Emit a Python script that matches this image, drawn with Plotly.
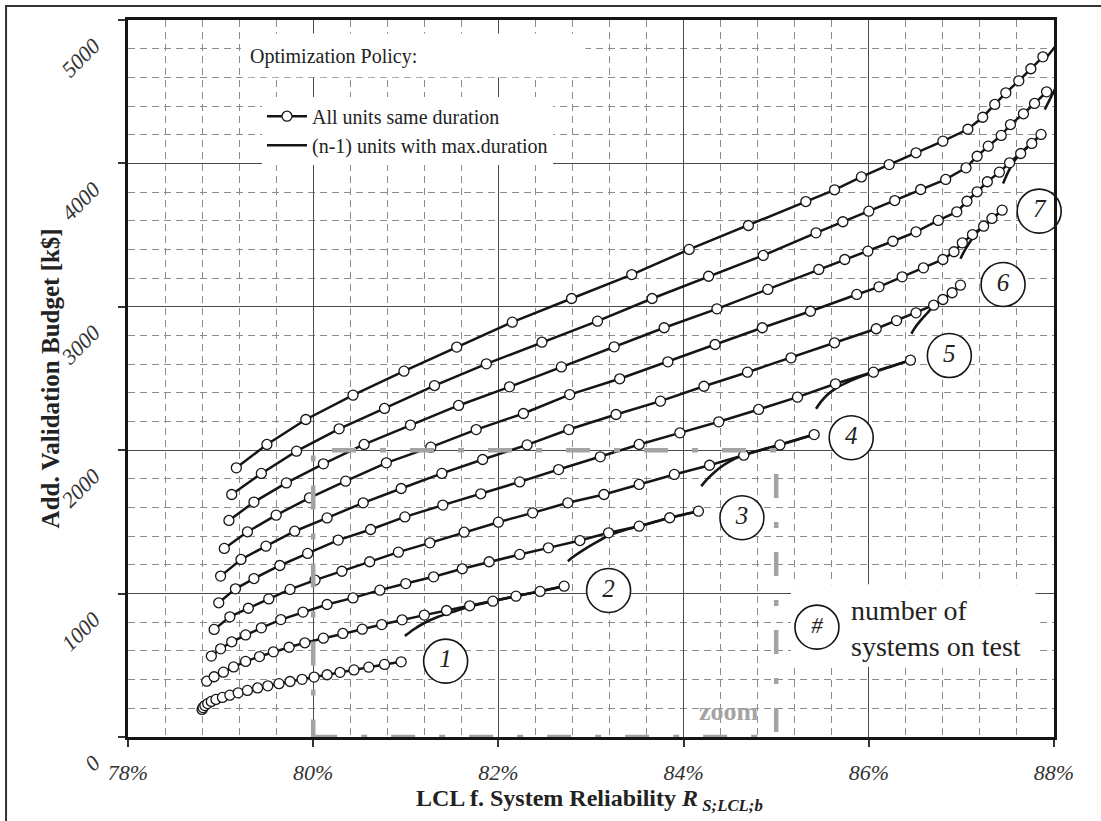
import plotly.graph_objects as go

SERIF = "Liberation Serif"

# LCL of system reliability R_S;LCL;b [%] and additional validation budget [k$]
# Policy "All units same duration", n = 1 .. 10 systems on test
r_same_1 = [78.80, 78.81, 78.83, 78.86, 78.90, 78.95, 79.02, 79.10, 79.19, 79.29, 79.40,
            79.51, 79.63, 79.75, 79.88, 80.01, 80.15, 80.29, 80.44, 80.60, 80.77, 80.95]
b_same_1 = [192, 205, 219, 233, 248, 262, 276, 292, 308, 325, 342,
            357, 372, 387, 402, 418, 434, 451, 468, 487, 506, 524]

r_same_2 = [78.85, 78.93, 79.03, 79.14, 79.27, 79.42, 79.57, 79.74, 79.91, 80.11, 80.32,
            80.53, 80.74, 80.96, 81.20, 81.44, 81.69, 81.94, 82.19, 82.45, 82.71]
b_same_2 = [389, 420, 452, 489, 527, 561, 594, 626, 657, 689, 722,
            752, 784, 817, 850, 882, 915, 947, 982, 1015, 1052]

r_same_3 = [78.90, 79.00, 79.12, 79.27, 79.44, 79.65, 79.89, 80.15, 80.43, 80.72, 81.00,
            81.30, 81.61, 81.90, 82.23, 82.54, 82.88, 83.19, 83.52, 83.85, 84.16]
b_same_3 = [564, 615, 664, 712, 761, 819, 871, 924, 970, 1024, 1070,
            1117, 1173, 1222, 1273, 1319, 1370, 1424, 1470, 1529, 1575]

r_same_4 = [78.93, 79.10, 79.30, 79.52, 79.75, 80.02, 80.31, 80.61, 80.92, 81.26, 81.63,
            82.00, 82.37, 82.75, 83.14, 83.52, 83.90, 84.28, 84.65, 85.04, 85.41]
b_same_4 = [750, 838, 898, 963, 1029, 1094, 1156, 1222, 1289, 1354, 1428,
            1498, 1563, 1633, 1691, 1761, 1831, 1895, 1965, 2037, 2109]

r_same_5 = [78.98, 79.16, 79.36, 79.64, 79.94, 80.27, 80.62, 80.99, 81.40, 81.81, 82.23,
            82.65, 83.10, 83.52, 83.96, 84.38, 84.81, 85.23, 85.64, 86.05, 86.45]
b_same_5 = [936, 1033, 1105, 1196, 1280, 1373, 1447, 1535, 1617, 1696, 1779,
            1865, 1954, 2040, 2121, 2198, 2284, 2370, 2463, 2544, 2628]

r_same_6 = [79.00, 79.22, 79.49, 79.80, 80.15, 80.54, 80.95, 81.39, 81.83, 82.31, 82.76,
            83.27, 83.75, 84.22, 84.69, 85.16, 85.63, 86.08, 86.30, 86.51, 86.70,
            86.80, 86.90, 86.99]
b_same_6 = [1122, 1238, 1331, 1435, 1528, 1633, 1733, 1838, 1935, 2037, 2144,
            2249, 2342, 2446, 2544, 2644, 2749, 2847, 2904, 2958, 3011,
            3051, 3098, 3151]

r_same_7 = [79.04, 79.29, 79.60, 79.96, 80.35, 80.79, 81.27, 81.76, 82.27, 82.77, 83.31,
            83.83, 84.34, 84.85, 85.37, 85.87, 86.11, 86.36, 86.59, 86.80, 86.92,
            87.01, 87.12, 87.24, 87.33, 87.44]
b_same_7 = [1315, 1431, 1547, 1668, 1784, 1912, 2021, 2144, 2256, 2388, 2498,
            2616, 2737, 2854, 2969, 3086, 3139, 3209, 3272, 3330, 3384,
            3446, 3504, 3562, 3616, 3674]

r_same_8 = [79.09, 79.36, 79.71, 80.11, 80.55, 81.05, 81.57, 82.12, 82.68, 83.25, 83.79,
            84.36, 84.91, 85.46, 85.74, 85.99, 86.26, 86.51, 86.75, 86.95, 87.06,
            87.17, 87.28, 87.41, 87.52, 87.64, 87.76, 87.86]
b_same_8 = [1510, 1638, 1772, 1905, 2040, 2175, 2312, 2442, 2581, 2721, 2854,
            2986, 3121, 3260, 3330, 3388, 3457, 3523, 3602, 3662, 3736,
            3802, 3872, 3939, 4004, 4069, 4139, 4202]

r_same_9 = [79.12, 79.44, 79.82, 80.28, 80.77, 81.31, 81.87, 82.47, 83.07, 83.66, 84.27,
            84.86, 85.43, 85.72, 86.00, 86.28, 86.56, 86.83, 87.05, 87.17, 87.29,
            87.43, 87.53, 87.67, 87.79, 87.92]
b_same_9 = [1691, 1838, 1993, 2149, 2291, 2451, 2602, 2753, 2900, 3058, 3213,
            3358, 3516, 3593, 3667, 3741, 3818, 3888, 3969, 4050, 4120,
            4195, 4271, 4346, 4418, 4499]

r_same_10 = [79.17, 79.50, 79.92, 80.43, 80.98, 81.55, 82.15, 82.79, 83.44, 84.06, 84.70,
             85.32, 85.63, 85.92, 86.22, 86.51, 86.80, 87.07, 87.23, 87.36, 87.48,
             87.62, 87.75, 87.88]
b_same_10 = [1877, 2040, 2214, 2384, 2551, 2719, 2893, 3058, 3225, 3400, 3567,
             3734, 3816, 3906, 3992, 4074, 4155, 4238, 4322, 4411, 4492,
             4576, 4660, 4743]

# Policy "(n-1) units with max. duration", n = 2 .. 10
r_max_2 = [80.99, 81.08, 81.20, 81.35, 81.52, 81.70, 81.94, 82.19, 82.45, 82.71]
b_max_2 = [705, 748, 795, 838, 875, 912, 947, 982, 1015, 1052]

r_max_3 = [82.75, 82.82, 82.92, 83.05, 83.19, 83.35, 83.52, 83.85, 84.16]
b_max_3 = [1226, 1262, 1305, 1355, 1405, 1440, 1470, 1529, 1575]

r_max_4 = [84.19, 84.25, 84.33, 84.43, 84.55, 84.68, 85.04, 85.41]
b_max_4 = [1749, 1795, 1845, 1895, 1940, 1975, 2037, 2109]

r_max_5 = [85.43, 85.48, 85.55, 85.64, 85.75, 85.88, 86.05, 86.45]
b_max_5 = [2289, 2335, 2385, 2430, 2468, 2505, 2544, 2628]

r_max_6 = [86.46, 86.50, 86.56, 86.63, 86.70, 86.80, 86.90, 86.99]
b_max_6 = [2812, 2855, 2905, 2955, 3005, 3053, 3100, 3151]

r_max_7 = [86.99, 87.02, 87.06, 87.11, 87.17, 87.24, 87.34, 87.44]
b_max_7 = [3335, 3375, 3420, 3470, 3520, 3562, 3616, 3674]

r_max_8 = [87.45, 87.48, 87.52, 87.57, 87.64, 87.76, 87.86]
b_max_8 = [3860, 3905, 3960, 4015, 4069, 4139, 4202]

r_max_9 = [87.90, 87.95, 88.00, 88.05, 88.10]
b_max_9 = [4376, 4440, 4505, 4565, 4625]

r_max_10 = [87.93, 88.00, 88.08]
b_max_10 = [4747, 4805, 4865]

# circled "number of systems on test" labels
label_text = ["1", "2", "3", "4", "5", "6", "7"]
label_r = [81.43, 83.19, 84.63, 85.81, 86.87, 87.45, 87.84]
label_b = [529, 1022, 1529, 2087, 2660, 3156, 3667]

x_ticks = [78, 80, 82, 84, 86, 88]
x_tick_text = ["78%", "80%", "82%", "84%", "86%", "88%"]
y_ticks = [0, 1000, 2000, 3000, 4000, 5000]

same_series = [(r_same_1, b_same_1), (r_same_2, b_same_2), (r_same_3, b_same_3),
               (r_same_4, b_same_4), (r_same_5, b_same_5), (r_same_6, b_same_6),
               (r_same_7, b_same_7), (r_same_8, b_same_8), (r_same_9, b_same_9),
               (r_same_10, b_same_10)]
max_series = [(r_max_2, b_max_2), (r_max_3, b_max_3), (r_max_4, b_max_4),
              (r_max_5, b_max_5), (r_max_6, b_max_6), (r_max_7, b_max_7),
              (r_max_8, b_max_8), (r_max_9, b_max_9), (r_max_10, b_max_10)]

INK = "#151515"

fig = go.Figure()

for i, (xs, ys) in enumerate(max_series):
    fig.add_trace(go.Scatter(
        x=xs, y=ys, mode="lines",
        line=dict(color=INK, width=2.6, shape="spline", smoothing=0.6),
        name="(n-1) units with max.duration",
        legendgroup="max", legendrank=2, showlegend=(i == 0),
        hoverinfo="skip",
    ))

for i, (xs, ys) in enumerate(same_series):
    fig.add_trace(go.Scatter(
        x=xs, y=ys, mode="lines+markers",
        line=dict(color=INK, width=2.5),
        marker=dict(symbol="circle", size=10, color="white",
                    line=dict(color=INK, width=1.3)),
        name="All units same duration",
        legendgroup="same", legendrank=1, showlegend=(i == 0),
        hoverinfo="skip",
    ))

# circled curve numbers
fig.add_trace(go.Scatter(
    x=label_r, y=label_b, mode="markers+text",
    marker=dict(symbol="circle", size=44, color="white",
                line=dict(color=INK, width=1.6)),
    text=label_text, textposition="middle center",
    textfont=dict(family=SERIF, size=25, color="#222", style="italic"),
    showlegend=False, cliponaxis=False, hoverinfo="skip",
))

# key for the circled numbers
fig.add_shape(type="rect", xref="x", yref="y", x0=85.16, x1=87.80, y0=490, y1=1065,
              fillcolor="white", line=dict(width=0), layer="between")
fig.add_trace(go.Scatter(
    x=[85.44], y=[766], mode="markers+text",
    marker=dict(symbol="circle", size=44, color="white",
                line=dict(color=INK, width=1.6)),
    text=["#"], textposition="middle center",
    textfont=dict(family=SERIF, size=23, color="#222", style="italic"),
    showlegend=False, cliponaxis=False, hoverinfo="skip",
))
fig.add_annotation(x=85.79, y=757, xref="x", yref="y", xanchor="left", yanchor="middle",
                   text="number of<br>systems on test", align="left", showarrow=False,
                   font=dict(family=SERIF, size=28, color="#222"))

# zoom window
fig.add_shape(type="rect", xref="x", yref="y", x0=80, x1=85, y0=0, y1=2000,
              line=dict(color="#a3a3a3", width=4.5, dash="24px,24px,6px,24px"),
              fillcolor="rgba(0,0,0,0)", layer="above")
fig.add_annotation(x=84.49, y=178, xref="x", yref="y", text="<b>zoom</b>", showarrow=False,
                   font=dict(family=SERIF, size=26, color="#a3a3a3"))

# legend heading
fig.add_shape(type="rect", xref="x", yref="y", x0=79.22, x1=82.94, y0=4600, y1=4905,
              fillcolor="white", line=dict(width=0), layer="between")
fig.add_annotation(x=79.30, y=4745, xref="x", yref="y", xanchor="left", yanchor="middle",
                   text="Optimization Policy:", showarrow=False,
                   font=dict(family=SERIF, size=20, color="#222"))

# axis titles
fig.add_annotation(x=-0.100, y=0.5, xref="paper", yref="paper", textangle=-90,
                   text="<b>Add. Validation Budget [k$]</b>", showarrow=False,
                   font=dict(family=SERIF, size=25, color="#222"))
fig.add_annotation(x=0.498, y=-0.088, xref="paper", yref="paper", yanchor="middle",
                   text="<b>LCL f. System Reliability <i>R</i><sub><i> S;LCL;b</i></sub></b>",
                   showarrow=False, font=dict(family=SERIF, size=24, color="#222"))

# outer frame
fig.add_shape(type="rect", xref="paper", yref="paper", x0=-0.1317, x1=1.06, y0=-0.13, y1=1.0195,
              line=dict(color="#333", width=2), fillcolor="rgba(0,0,0,0)", layer="above")

axis_common = dict(
    showgrid=True, gridcolor="#4a4a4a", gridwidth=1.2,
    ticks="outside", ticklen=7, tickwidth=1.5, tickcolor="#333",
    showline=True, linecolor=INK, linewidth=2.6, mirror=True, zeroline=False,
)

fig.update_xaxes(
    range=[78, 88], tickvals=x_ticks, ticktext=x_tick_text,
    minor=dict(tick0=78, dtick=0.4, showgrid=True, gridcolor="#8c8c8c", gridwidth=1,
               griddash="7px,5px"),
    tickfont=dict(family=SERIF, size=22, color="#333", style="italic"),
    ticklabelstandoff=7,
    **axis_common,
)
fig.update_yaxes(
    range=[0, 5000], tickvals=y_ticks,
    minor=dict(tick0=0, dtick=200, showgrid=True, gridcolor="#8c8c8c", gridwidth=1,
               griddash="7px,5px"),
    tickangle=-45,
    tickfont=dict(family=SERIF, size=22, color="#333", style="italic"),
    ticklabelshift=23, ticklabelstandoff=20,
    **axis_common,
)

fig.update_layout(
    width=1101, height=821, autosize=False,
    margin=dict(l=128, r=47, t=20, b=84),
    paper_bgcolor="white", plot_bgcolor="white",
    font=dict(family=SERIF, color="#222"),
    legend=dict(x=0.1447, y=0.893, xanchor="left", yanchor="top",
                bgcolor="white", borderwidth=0, itemwidth=40, tracegroupgap=0,
                font=dict(family=SERIF, size=20, color="#222")),
)

fig.write_html("out.html")
